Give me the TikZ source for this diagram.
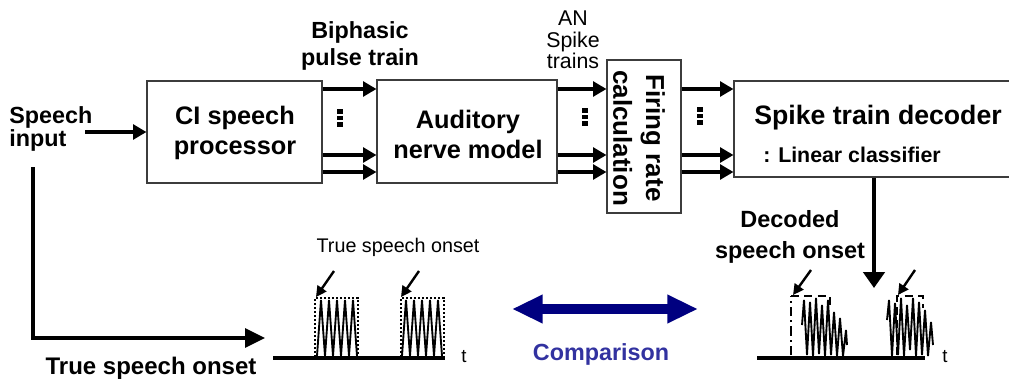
\documentclass[tikz,border=0pt]{standalone}
\usepackage{fontspec}
\setmainfont{Liberation Sans}
\usetikzlibrary{arrows.meta,calc}

\definecolor{navyarrow}{RGB}{0,0,128}
\definecolor{cmplabel}{RGB}{50,50,160}
\definecolor{boxline}{RGB}{60,60,60}

\tikzset{
  block/.style={draw=boxline, line width=0.8pt, rectangle, inner sep=0pt},
  boxtext/.style={font=\fontsize{19}{22.5}\selectfont\bfseries, align=center, inner sep=0pt},
  label/.style={font=\fontsize{17.5}{20}\selectfont\bfseries, align=center, inner sep=0pt},
  thinlabel/.style={font=\fontsize{16}{16}\selectfont, align=center, inner sep=0pt},
  conn/.style={line width=2.8pt, -{Triangle[length=10pt,width=11pt]}},
  bigconn/.style={line width=2.8pt, -{Triangle[length=15pt,width=14pt]}},
  axis/.style={line width=3pt},
  onsetarrow/.style={line width=1.8pt, -{Triangle[length=8pt,width=8pt]}},
  envelope/.style={line width=1.8pt, dash pattern=on 1.6pt off 1.4pt},
  decenv/.style={line width=1.6pt, dash pattern=on 6pt off 4pt},
  decleft/.style={line width=1.6pt, dash pattern=on 7pt off 3pt on 1.6pt off 3pt},
  wave/.style={line width=1.4pt, line join=miter},
  vdotsmark/.pic={\foreach \dy in {-6.5,0,6.5} \fill (-2.6,\dy-2.3) rectangle (2.6,\dy+2.3);}
}

\begin{document}
\begin{tikzpicture}[x=0.75pt,y=-0.75pt]
\clip (0,0) rectangle (1009,382);

% processing blocks
\node[block, minimum width=175*0.75pt, minimum height=102*0.75pt] (ci) at (234.5,132) {};
\node[boxtext] at (235,133) {CI speech\\processor};
\node[block, minimum width=180*0.75pt, minimum height=103*0.75pt] (an) at (467,131.5) {};
\node[boxtext] at (468,134) {Auditory\\nerve model};
\node[block, minimum width=74*0.75pt, minimum height=153*0.75pt] (fr) at (644,136.5) {};
\node[boxtext, rotate=-90, font=\fontsize{19.5}{24.5}\selectfont\bfseries] at (639,138) {Firing rate\\calculation};
\node[block, minimum width=288*0.75pt, minimum height=96*0.75pt] (dec) at (878,129) {};
\node[boxtext, font=\fontsize{20}{22}\selectfont\bfseries] (dectitle) at (878,118) {Spike train decoder};
\node[inner sep=0pt, anchor=west, font=\fontsize{16}{18}\selectfont\bfseries] (decsub) at (763,155) {: Linear classifier};

% channel rows
\coordinate (r1) at (0,89);
\coordinate (r2) at (0,155);
\coordinate (r3) at (0,172);
\foreach \r in {r1,r2,r3}{
  \draw[conn] (ci.east |- \r) -- (an.west |- \r);
  \draw[conn] (an.east |- \r) -- (fr.west |- \r);
  \draw[conn] (fr.east |- \r) -- (dec.west |- \r);
}
\pic at (340,118) {vdotsmark};
\pic at (585,117) {vdotsmark};
\pic at (700,116) {vdotsmark};

% labels above the chain
\node[label, font=\fontsize{17.5}{20}\selectfont\bfseries] (biph) at (360,46) {Biphasic\\pulse train};
\node[thinlabel] (antrain) at (573,40) {AN\\Spike\\trains};

% speech input
\node[label, align=left, anchor=west, font=\fontsize{17.5}{17.25}\selectfont\bfseries] (spin) at (9,129) {Speech\\input};
\coordinate (spout) at (85,132);
\draw[conn] (spout) -- (spout -| ci.west);

% path to the true onset axis
\coordinate (inbot) at (33,167);
\coordinate (onsetin) at (265,338);
\draw[bigconn] (inbot) |- (onsetin);
\node[font=\fontsize{18}{20}\selectfont\bfseries, inner sep=0pt] (trueon) at (151,368) {True speech onset};

% true onset signal
\coordinate (axL) at (273,358);
\coordinate (axR) at (445,358);
\draw[axis] (axL) -- (axR);
\node[font=\fontsize{14}{14}\selectfont, inner sep=0pt] (tl) at (464,357) {t};
\node[font=\fontsize{14.8}{16}\selectfont, inner sep=0pt] (truelab) at (398,247) {True speech onset};
\draw[wave] (317,356) \foreach \i in {1,...,5}{ -- ++(4,-56) -- ++(4,56)};
\draw[wave] (402,356) \foreach \i in {1,...,5}{ -- ++(4,-56) -- ++(4,56)};
\draw[envelope] (315,357) rectangle (358,298);
\draw[envelope] (401,357) rectangle (444,298);
\coordinate (ta1) at (334,271); \coordinate (th1) at (316,297);
\coordinate (ta2) at (419,271); \coordinate (th2) at (401,297);
\draw[onsetarrow] (ta1) -- (th1);
\draw[onsetarrow] (ta2) -- (th2);

% comparison arrow
\coordinate (cmpL) at (512,309);
\coordinate (cmpR) at (698,309);
\draw[navyarrow, line width=7.5pt, {Triangle[length=23pt,width=20pt]}-{Triangle[length=23pt,width=20pt]}] (cmpL) -- (cmpR);
\node[font=\fontsize{17.5}{20}\selectfont\bfseries, text=cmplabel, inner sep=0pt] (cmp) at (601,354) {Comparison};

% decoded onset signal
\coordinate (decdown) at (874,288);
\draw[line width=2.8pt, -{Triangle[length=12pt,width=16pt]}] (decdown |- dec.south) -- (decdown);
\node[label, font=\fontsize{17.6}{23}\selectfont\bfseries] (declab) at (790,237) {Decoded\\speech onset};
\coordinate (dxL) at (757,358);
\coordinate (dxR) at (925,358);
\draw[axis] (dxL) -- (dxR);
\node[font=\fontsize{14}{14}\selectfont, inner sep=0pt] (tr) at (945,357) {t};
\draw[decleft] (791,355) -- (791,296);
\draw[decenv] (791,296) -- (830,296) -- (830,308);
\draw[decenv] (897,355) -- (897,296) -- (923,296) -- (923,308);
\draw[wave] (802,325) -- (804,300) -- (807,355) -- (810,302) -- (813,356) -- (816,298) -- (819,354)
  -- (822,305) -- (825,356) -- (828,300) -- (831,355) -- (834,312) -- (837,356) -- (840,318)
  -- (843,356) -- (846,330) -- (847,345);
\draw[wave] (887,320) -- (889,300) -- (892,356) -- (895,303) -- (898,355) -- (901,298) -- (904,356)
  -- (907,305) -- (910,350) -- (913,298) -- (916,356) -- (919,302) -- (922,355) -- (925,310)
  -- (928,356) -- (931,322) -- (933,345);
\coordinate (da1) at (811,270); \coordinate (dh1) at (793,295);
\coordinate (da2) at (915,270); \coordinate (dh2) at (898,295);
\draw[onsetarrow] (da1) -- (dh1);
\draw[onsetarrow] (da2) -- (dh2);
\end{tikzpicture}
\end{document}
